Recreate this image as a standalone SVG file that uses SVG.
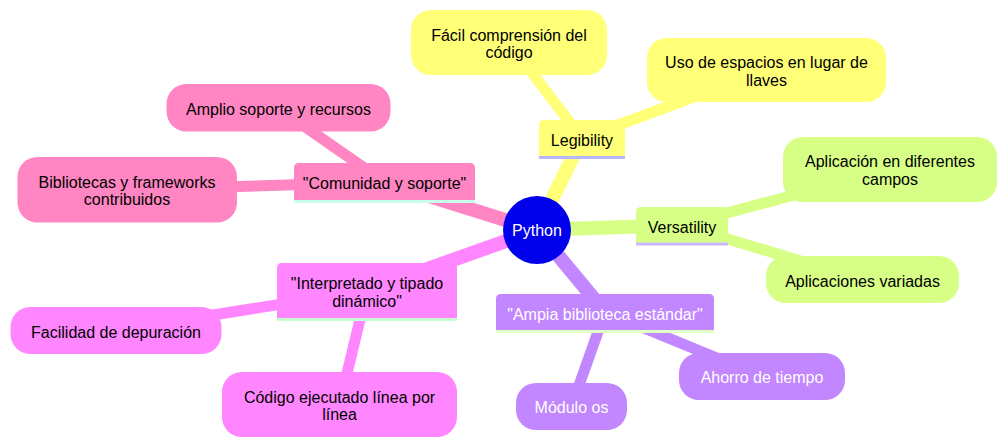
<svg xmlns="http://www.w3.org/2000/svg" width="1007" height="447" viewBox="0 0 1007 447">
<style>
text{font-family:"Liberation Sans",Arial,sans-serif;font-size:16px;text-anchor:middle;fill:#000}
.w{fill:#fff}
.e{fill:none;stroke-linecap:butt}
.d1{stroke-width:14}
.d2{stroke-width:11}
.ul{stroke-width:3;fill:none}
.c1{fill:#ffff78}.s1{stroke:#ffff78}
.c2{fill:#d7ff86}.s2{stroke:#d7ff86}
.c3{fill:#c286ff}.s3{stroke:#c286ff}
.c4{fill:#ff86ff}.s4{stroke:#ff86ff}
.c5{fill:#ff86c2}.s5{stroke:#ff86c2}
</style>
<rect width="1007" height="447" fill="#fff"/>
<g id="edges">
<line class="e d1 s1" x1="537" y1="230" x2="582" y2="138.5"/>
<line class="e d1 s2" x1="537" y1="230" x2="681.5" y2="225"/>
<line class="e d1 s3" x1="537" y1="230" x2="605" y2="312"/>
<line class="e d1 s4" x1="537" y1="230" x2="367" y2="290.5"/>
<line class="e d1 s5" x1="537" y1="230" x2="384.5" y2="182"/>
<line class="e d2 s1" x1="582" y1="138.5" x2="509" y2="42.5"/>
<line class="e d2 s1" x1="582" y1="138.5" x2="766.5" y2="70"/>
<line class="e d2 s2" x1="681.5" y1="225" x2="890" y2="169.5"/>
<line class="e d2 s2" x1="681.5" y1="225" x2="862" y2="279.5"/>
<line class="e d2 s3" x1="605" y1="312" x2="762" y2="376.5"/>
<line class="e d2 s3" x1="605" y1="312" x2="571.5" y2="406.5"/>
<line class="e d2 s4" x1="367" y1="290.5" x2="116" y2="330.5"/>
<line class="e d2 s4" x1="367" y1="290.5" x2="339.5" y2="404.5"/>
<line class="e d2 s5" x1="384.5" y1="182" x2="278" y2="108"/>
<line class="e d2 s5" x1="384.5" y1="182" x2="127" y2="190"/>
</g>
<g id="root">
<circle cx="537" cy="230" r="34" fill="#0000ec"/>
<text class="w" x="537" y="236">Python</text>
</g>
<g id="legibility">
<path class="c1" d="M539 157V125q0-5 5-5h76q5 0 5 5V157z"/>
<line class="ul" stroke="#b6b6ff" x1="539" y1="157.5" x2="625" y2="157.5"/>
<text x="582" y="146">Legibility</text>
</g>
<g id="facil">
<rect class="c1" x="411" y="10" width="196" height="65" rx="20"/>
<text x="509" y="40.7">Fácil comprensión del</text>
<text x="509" y="58.3">código</text>
</g>
<g id="uso">
<rect class="c1" x="647" y="38" width="239" height="64" rx="20"/>
<text x="766.5" y="68.3">Uso de espacios en lugar de</text>
<text x="766.5" y="85.5">llaves</text>
</g>
<g id="versatility">
<path class="c2" d="M636 243V212q0-5 5-5h82q5 0 5 5V243z"/>
<line class="ul" stroke="#c8b8ff" x1="636" y1="244" x2="728" y2="244"/>
<text x="682" y="233">Versatility</text>
</g>
<g id="aplicacion">
<rect class="c2" x="783" y="137" width="214" height="65" rx="20"/>
<text x="890" y="167">Aplicación en diferentes</text>
<text x="890" y="184.5">campos</text>
</g>
<g id="aplicaciones">
<rect class="c2" x="766" y="256" width="193" height="47" rx="20"/>
<text x="862.5" y="286.5">Aplicaciones variadas</text>
</g>
<g id="ampia">
<path class="c3" d="M496 331V299q0-5 5-5h208q5 0 5 5V331z"/>
<line class="ul" stroke="#e0ffc8" x1="496" y1="331.5" x2="714" y2="331.5"/>
<text class="w" x="605" y="319.5">"Ampia biblioteca estándar"</text>
</g>
<g id="ahorro">
<rect class="c3" x="679" y="353" width="166" height="47" rx="20"/>
<text class="w" x="762" y="383">Ahorro de tiempo</text>
</g>
<g id="modulo">
<rect class="c3" x="516" y="383" width="111" height="47" rx="20"/>
<text class="w" x="571.5" y="413">Módulo os</text>
</g>
<g id="interpretado">
<path class="c4" d="M277 319V268q0-5 5-5h170q5 0 5 5V319z"/>
<line class="ul" stroke="#c8ffd2" x1="277" y1="319.5" x2="457" y2="319.5"/>
<text x="367" y="289.3">"Interpretado y tipado</text>
<text x="367" y="306.7">dinámico"</text>
</g>
<g id="facilidad">
<rect class="c4" x="10.5" y="307" width="211" height="47" rx="20"/>
<text x="116" y="337.5">Facilidad de depuración</text>
</g>
<g id="codigo">
<rect class="c4" x="222" y="372" width="235" height="65" rx="20"/>
<text x="339.5" y="402.5">Código ejecutado línea por</text>
<text x="339.5" y="420">línea</text>
</g>
<g id="comunidad">
<path class="c5" d="M294 201V168q0-5 5-5h171q5 0 5 5V201z"/>
<line class="ul" stroke="#c8ffe8" x1="294" y1="201.5" x2="475" y2="201.5"/>
<text x="384.5" y="189.3">"Comunidad y soporte"</text>
</g>
<g id="amplio">
<rect class="c5" x="166.5" y="84" width="224" height="47.5" rx="20"/>
<text x="278.5" y="114.5">Amplio soporte y recursos</text>
</g>
<g id="bibliotecas">
<rect class="c5" x="17.5" y="157" width="219.5" height="65.5" rx="20"/>
<text x="127" y="187.7">Bibliotecas y frameworks</text>
<text x="127" y="205.2">contribuidos</text>
</g>
</svg>
